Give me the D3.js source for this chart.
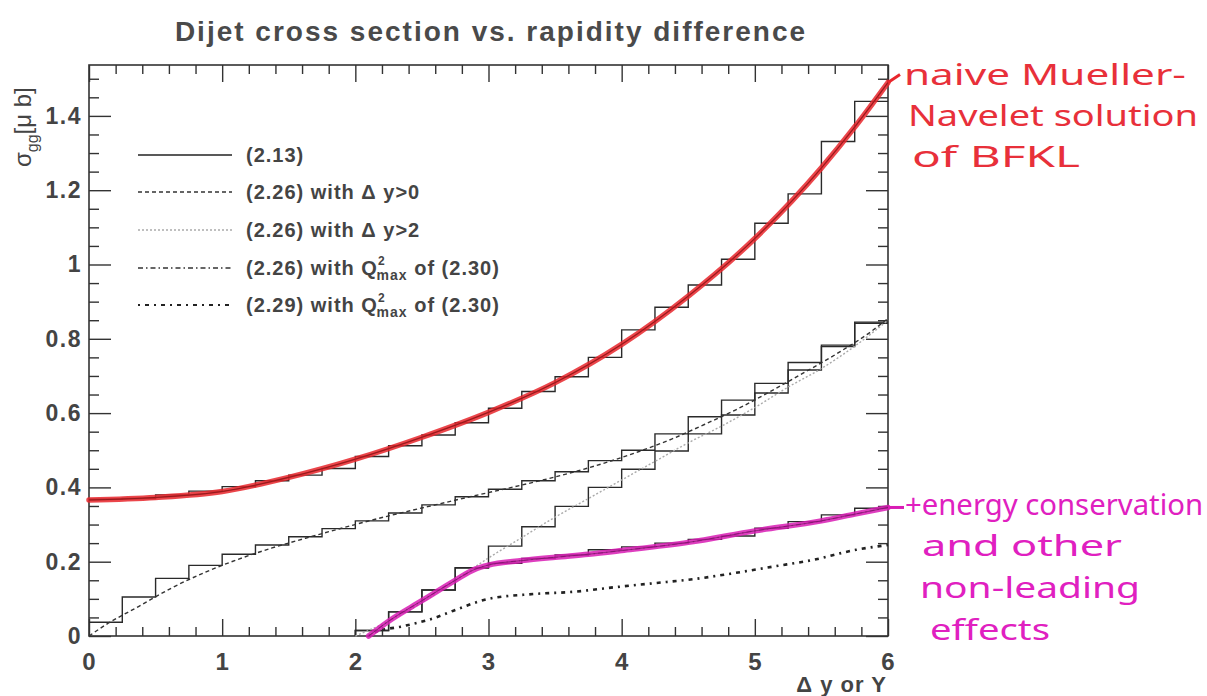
<!DOCTYPE html>
<html>
<head>
<meta charset="utf-8">
<script src="https://cdn.jsdelivr.net/npm/d3@7"></script>
<style>
  body { margin: 0; background: #fff; }
  text { font-family: "Liberation Sans", Arial, sans-serif; fill: #444; font-weight: bold; }
  .hand { font-family: "Noto Sans", sans-serif; font-weight: normal; }
</style>
</head>
<body>
<div id="vis"></div>
<script>
// bins of width 0.25 in delta y
var binStarts = d3.range(0, 6, 0.25);

// MC histograms
var hist213 = [0.368, 0.370, 0.380, 0.390, 0.402, 0.418, 0.433, 0.451, 0.483, 0.512, 0.541, 0.574,
               0.613, 0.658, 0.698, 0.750, 0.824, 0.885, 0.945, 1.014, 1.111, 1.190, 1.331, 1.439];
var histDy0 = [0.037, 0.105, 0.155, 0.190, 0.220, 0.245, 0.267, 0.289, 0.310, 0.331, 0.353, 0.375,
               0.395, 0.418, 0.442, 0.472, 0.500, 0.544, 0.590, 0.635, 0.680, 0.736, 0.783, 0.845];
// these two start at delta y = 2
var histDy2 = [0.015, 0.065, 0.124, 0.184, 0.242, 0.294, 0.349, 0.400,
               0.449, 0.498, 0.544, 0.595, 0.654, 0.716, 0.779, 0.842];
var histQ2 = [0.015, 0.065, 0.124, 0.183, 0.196, 0.209, 0.218, 0.232,
              0.240, 0.250, 0.260, 0.269, 0.290, 0.308, 0.326, 0.344];

// analytic curves
var x213 = [0, 0.5, 1, 1.5, 2, 2.5, 3, 3.5, 4, 4.5, 5, 5.5, 5.75, 6];
var y213 = [0.366, 0.373, 0.389, 0.427, 0.476, 0.535, 0.602, 0.682, 0.785, 0.915, 1.070, 1.260, 1.370, 1.490];

var xDy0 = [0, 0.125, 0.375, 0.625, 0.875, 1.125, 1.375, 1.625, 1.875, 2.125, 2.375, 2.625, 2.875,
            3.125, 3.375, 3.625, 3.875, 4.125, 4.375, 4.625, 4.875, 5.125, 5.375, 5.625, 5.875, 6];
var yDy0 = [0.0, 0.03, 0.08, 0.13, 0.172, 0.207, 0.237, 0.263, 0.288, 0.312, 0.334, 0.355, 0.376,
            0.396, 0.417, 0.440, 0.466, 0.496, 0.530, 0.570, 0.612, 0.660, 0.710, 0.762, 0.820, 0.855];

var xDy2 = [2.0, 2.25, 2.5, 2.75, 3.0, 3.25, 3.5, 3.75, 4.0, 4.25, 4.5, 4.75, 5.0, 5.25, 5.5, 5.75, 6.0];
var yDy2 = [0.0, 0.04, 0.09, 0.15, 0.21, 0.265, 0.32, 0.37, 0.42, 0.47, 0.52, 0.565, 0.615, 0.67, 0.72, 0.78, 0.85];

var xQ2 = [2.1, 2.25, 2.5, 2.75, 2.9, 3.0, 3.25, 3.5, 3.75, 4.0, 4.5, 5.0, 5.5, 5.75, 6.0];
var yQ2 = [0.0, 0.04, 0.095, 0.15, 0.18, 0.191, 0.203, 0.212, 0.220, 0.230, 0.252, 0.283, 0.310, 0.328, 0.346];

var x229 = [2.1, 2.16, 2.34, 2.59, 2.75, 3.0, 3.34, 3.64, 3.94, 4.24, 4.54, 4.84, 5.14, 5.44, 5.76, 6.0];
var y229 = [0.0, 0.012, 0.025, 0.048, 0.07, 0.10, 0.113, 0.119, 0.131, 0.142, 0.153, 0.169, 0.187, 0.205, 0.232, 0.245];

var xTicks = [0, 1, 2, 3, 4, 5, 6];
var yTicks = [0, 0.2, 0.4, 0.6, 0.8, 1, 1.2, 1.4];
var yTickLabels = ['0', '0.2', '0.4', '0.6', '0.8', '1', '1.2', '1.4'];

var legendLabels = ['(2.13)', '(2.26) with \u0394 y>0', '(2.26) with \u0394 y>2',
                    '(2.26) with Q', '(2.29) with Q'];

var W = 1207, H = 696;
var margin = { left: 89, top: 65, right: 319, bottom: 60 };
var width = W - margin.left - margin.right;
var height = H - margin.top - margin.bottom;

var svg = d3.select('#vis').append('svg')
    .attr('width', W)
    .attr('height', H)
    .style('display', 'block');

svg.append('rect').attr('width', W).attr('height', H).attr('fill', '#fff');

var xScale = d3.scaleLinear().domain([0, 6]).range([0, width]);
var yScale = d3.scaleLinear().domain([0, 1.537]).range([height, 0]);

var g = svg.append('g')
    .attr('transform', 'translate(' + margin.left + ',' + margin.top + ')');

// title
svg.append('text')
    .attr('x', 491).attr('y', 41)
    .attr('text-anchor', 'middle')
    .style('font-size', '28px')
    .style('letter-spacing', '2px')
    .style('fill', '#4a4a4a')
    .text('Dijet cross section vs. rapidity difference');

// frame + ticks (inward on all four sides)
var tickMajX = 17, tickMinX = 9, tickMajY = 22, tickMinY = 10;
var xMinor = d3.range(0, 6.001, 0.2).filter(function(v) { return Math.abs(v - Math.round(v)) > 1e-6; });
var yMinor = d3.range(0, 1.5001, 0.05).filter(function(v) { return Math.abs(v / 0.2 - Math.round(v / 0.2)) > 1e-6; });

var bottomAxis = d3.axisBottom(xScale).tickValues(xTicks).tickSize(-tickMajX).tickFormat('');
var bottomMinor = d3.axisBottom(xScale).tickValues(xMinor).tickSize(-tickMinX).tickFormat('');
var topAxis = d3.axisTop(xScale).tickValues(xTicks).tickSize(-tickMajX).tickFormat('');
var topMinor = d3.axisTop(xScale).tickValues(xMinor).tickSize(-tickMinX).tickFormat('');
var leftAxis = d3.axisLeft(yScale).tickValues(yTicks).tickSize(-tickMajY).tickFormat('');
var leftMinor = d3.axisLeft(yScale).tickValues(yMinor).tickSize(-tickMinY).tickFormat('');
var rightAxis = d3.axisRight(yScale).tickValues(yTicks).tickSize(-tickMajY).tickFormat('');
var rightMinor = d3.axisRight(yScale).tickValues(yMinor).tickSize(-tickMinY).tickFormat('');

[[bottomAxis, 'translate(0,' + height + ')'], [bottomMinor, 'translate(0,' + height + ')'],
 [topAxis, null], [topMinor, null],
 [leftAxis, null], [leftMinor, null],
 [rightAxis, 'translate(' + width + ',0)'], [rightMinor, 'translate(' + width + ',0)']
].forEach(function(a) {
    var ax = g.append('g').call(a[0]);
    if (a[1]) ax.attr('transform', a[1]);
    ax.select('.domain').remove();
    ax.selectAll('line').attr('stroke', '#333').attr('stroke-width', 1.4);
});

g.append('rect')
    .attr('width', width).attr('height', height)
    .attr('fill', 'none').attr('stroke', '#333').attr('stroke-width', 1.6);

// tick labels
g.selectAll('.xlab').data(xTicks).enter().append('text')
    .attr('class', 'xlab')
    .attr('x', function(d) { return xScale(d); })
    .attr('y', height + 34)
    .attr('text-anchor', 'middle')
    .style('font-size', '24px')
    .text(function(d) { return d; });

g.selectAll('.ylab').data(yTicks).enter().append('text')
    .attr('class', 'ylab')
    .attr('x', -7)
    .attr('y', function(d) { return yScale(d) + 8; })
    .attr('text-anchor', 'end')
    .style('font-size', '23px')
    .style('letter-spacing', '1.5px')
    .text(function(d, i) { return yTickLabels[i]; });

// axis titles
svg.append('text')
    .attr('x', 887).attr('y', 692)
    .attr('text-anchor', 'end')
    .style('font-size', '22px')
    .style('letter-spacing', '1px')
    .text('\u0394 y or Y');

var ylab = svg.append('text')
    .attr('transform', 'translate(31,167) rotate(-90)')
    .style('font-size', '24px')
    .style('font-weight', 'normal');
ylab.append('tspan').text('\u03c3');
ylab.append('tspan').attr('dy', 7).style('font-size', '16px').text('gg');
ylab.append('tspan').attr('dy', -7).text('[\u03bc b]');

// line generators
var curve = d3.line()
    .x(function(d) { return xScale(d[0]); })
    .y(function(d) { return yScale(d[1]); })
    .curve(d3.curveMonotoneX);

var steps = d3.line()
    .x(function(d) { return xScale(d[0]); })
    .y(function(d) { return yScale(d[1]); })
    .curve(d3.curveStepAfter);

var histPoints = function(starts, vals, fromZero) {
    var pts = [];
    if (fromZero) pts.push([starts[0], 0]);
    vals.forEach(function(v, i) { pts.push([starts[i], v]); });
    pts.push([6, vals[vals.length - 1]]);
    return pts;
};

var zip = function(xs, ys) { return xs.map(function(x, i) { return [x, ys[i]]; }); };

var starts2 = binStarts.filter(function(b) { return b >= 2; });

// histograms
var histStyle = function(p) {
    p.attr('fill', 'none').attr('stroke', '#2a2a2a').attr('stroke-width', 1.4);
};
g.append('path').attr('d', steps(histPoints(binStarts, hist213, false))).call(histStyle);
g.append('path').attr('d', steps(histPoints(binStarts, histDy0, false))).call(histStyle);
g.append('path').attr('d', steps(histPoints(starts2, histDy2, true))).call(histStyle);
g.append('path').attr('d', steps(histPoints(starts2, histQ2, true))).call(histStyle);

// analytic curves
var styles = [
    { dash: null, color: '#222', w: 1.6 },
    { dash: '4,3', color: '#333', w: 1.4 },
    { dash: '2,2', color: '#aaa', w: 1.4 },
    { dash: '5,3,1.5,3', color: '#333', w: 1.4 },
    { dash: '2,5,4,5', color: '#222', w: 2.6 }
];

var curveData = [zip(x213, y213), zip(xDy0, yDy0), zip(xDy2, yDy2), zip(xQ2, yQ2), zip(x229, y229)];

curveData.forEach(function(cd, i) {
    var s = styles[i];
    g.append('path').attr('d', curve(cd))
        .attr('fill', 'none')
        .attr('stroke', s.color)
        .attr('stroke-width', s.w)
        .attr('stroke-dasharray', s.dash);
});

// hand-drawn highlights
g.append('path').attr('d', curve(curveData[0]))
    .attr('fill', 'none').attr('stroke', '#e8262c').attr('stroke-width', 5.5)
    .attr('stroke-opacity', 0.85).attr('stroke-linecap', 'round');
g.append('path').attr('d', curve(curveData[0]))
    .attr('fill', 'none').attr('stroke', '#5a1010').attr('stroke-width', 1)
    .attr('stroke-opacity', 0.5);
g.append('path').attr('d', curve(curveData[3]))
    .attr('fill', 'none').attr('stroke', '#d81cb4').attr('stroke-width', 5.5)
    .attr('stroke-opacity', 0.85).attr('stroke-linecap', 'round');
g.append('path').attr('d', curve(curveData[3]))
    .attr('fill', 'none').attr('stroke', '#4a1040').attr('stroke-width', 1)
    .attr('stroke-opacity', 0.5);

// connectors to the notes
var redEnd = curveData[0][curveData[0].length - 1];
g.append('path')
    .attr('d', 'M' + xScale(redEnd[0]) + ',' + yScale(redEnd[1]) + 'l12,-8')
    .attr('stroke', '#e8262c').attr('stroke-width', 3).attr('fill', 'none');
var magEnd = curveData[3][curveData[3].length - 1];
g.append('path')
    .attr('d', 'M' + xScale(magEnd[0]) + ',' + yScale(magEnd[1]) + 'l16,0')
    .attr('stroke', '#d81cb4').attr('stroke-width', 3).attr('fill', 'none');

// legend
var legend = g.append('g').attr('transform', 'translate(49,0)');
var rowY = [90, 127, 165, 203, 240];
styles.forEach(function(s, i) {
    legend.append('line')
        .attr('x1', 0).attr('x2', 94)
        .attr('y1', rowY[i]).attr('y2', rowY[i])
        .attr('stroke', s.color)
        .attr('stroke-width', i === 4 ? 2.2 : 1.4)
        .attr('stroke-dasharray', s.dash);
    var t = legend.append('text')
        .attr('x', 108).attr('y', rowY[i] + 7)
        .style('font-size', '20px')
        .style('letter-spacing', '1px')
        .text(legendLabels[i]);
    if (i >= 3) {
        t.append('tspan').attr('dy', -10).style('font-size', '12px').text('2');
        t.append('tspan').attr('dx', -9).attr('dy', 15).style('font-size', '14px').text('max');
        t.append('tspan').attr('dy', -5).text(' of (2.30)');
    }
});

// handwritten notes
var red = svg.append('text').attr('class', 'hand')
    .style('font-size', '29px').style('fill', '#e8303a');
red.append('tspan').attr('x', 904).attr('y', 85).attr('textLength', 282)
    .attr('lengthAdjust', 'spacingAndGlyphs').text('naive Mueller-');
red.append('tspan').attr('x', 908).attr('y', 126).attr('textLength', 290)
    .attr('lengthAdjust', 'spacingAndGlyphs').text('Navelet solution');
red.append('tspan').attr('x', 912).attr('y', 167).attr('textLength', 168)
    .attr('lengthAdjust', 'spacingAndGlyphs').text('of BFKL');

var mag = svg.append('text').attr('class', 'hand')
    .style('font-size', '29px').style('fill', '#e020c0');
mag.append('tspan').attr('x', 905).attr('y', 515).attr('textLength', 298)
    .attr('lengthAdjust', 'spacingAndGlyphs').text('+energy conservation');
mag.append('tspan').attr('x', 922).attr('y', 556).attr('textLength', 200)
    .attr('lengthAdjust', 'spacingAndGlyphs').text('and other');
mag.append('tspan').attr('x', 920).attr('y', 598).attr('textLength', 220)
    .attr('lengthAdjust', 'spacingAndGlyphs').text('non-leading');
mag.append('tspan').attr('x', 930).attr('y', 640).attr('textLength', 120)
    .attr('lengthAdjust', 'spacingAndGlyphs').text('effects');
</script>
</body>
</html>
